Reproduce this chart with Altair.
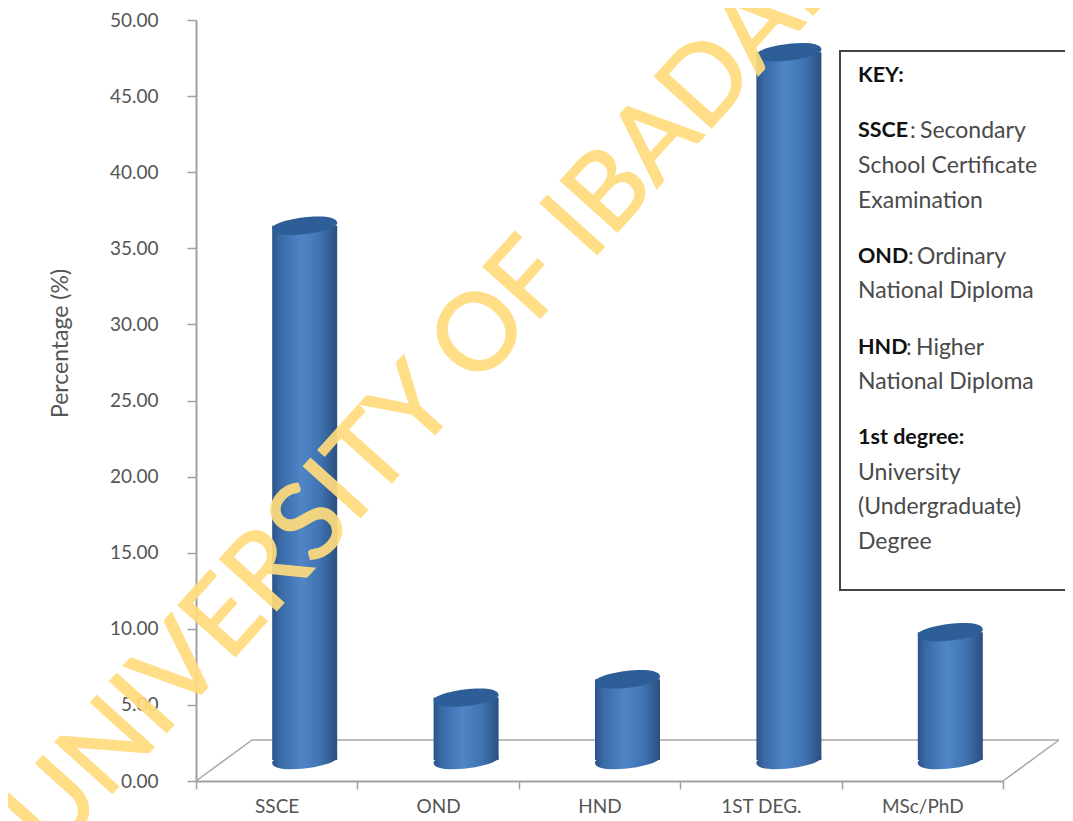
import altair as alt

categories = ["SSCE", "OND", "HND", "1ST DEG.", "MSc/PhD"]
percentages = [35.1, 4.1, 5.3, 46.5, 8.4]
y_ticks = [0, 5, 10, 15, 20, 25, 30, 35, 40, 45, 50]
y_title = "Percentage (%)"
watermark = "UNIVERSITY OF IBADAN"
key_title = "KEY:"
key_bold = ["SSCE", "OND", "HND", "1st degree:"]
key_rest = ["Secondary", "Ordinary", "Higher"]
key_plain = ["School Certificate", "Examination", "National Diploma", "National Diploma",
             "University", "(Undergraduate)", "Degree"]

W, H = 807, 761
FONT = "Lato"
ELLIPSE = "M-0.97,0.08 C-0.97,-0.2 0.97,-0.47 0.97,-0.08 C0.97,0.2 -0.97,0.47 -0.97,0.08 Z"
BASE_SHIFT = -21
BAR_SHIFT = 28

rows = [{"cat": c, "pct": p, "zero": 0} for c, p in zip(categories, percentages)]
bars_data = alt.Data(values=rows)
one = alt.Data(values=[{}])

y_scale = alt.Scale(domain=[0, 50], nice=False)
y_axis = alt.Axis(values=y_ticks, format=".2f", labelFont=FONT, labelFontSize=19,
                  labelColor="#555555", tickSize=9, tickColor="#a0a0a0", tickWidth=1.5,
                  domainColor="#a0a0a0", domainWidth=2, labelPadding=29, grid=False,
                  titleFont=FONT, titleFontSize=23, titleColor="#555555",
                  titleFontWeight="normal", titleX=-124, titleY=323)
x_enc = alt.X("cat:N", sort=categories, title=None,
              scale=alt.Scale(paddingInner=0, paddingOuter=0),
              axis=alt.Axis(labelAngle=0, labelFont=FONT, labelFontSize=19, labelColor="#555555",
                            tickBand="extent", tickSize=8, tickColor="#a0a0a0", tickWidth=1.5,
                            domainColor="#a0a0a0", domainWidth=2, labelPadding=8, grid=False))
y_pct = alt.Y("pct:Q", title=y_title, scale=y_scale, axis=y_axis)
y_zero = alt.Y("zero:Q", title=y_title, scale=y_scale, axis=y_axis)


def rule(x, x2, y, y2):
    return alt.Chart(one).mark_rule(color="#a6a6a6", strokeWidth=1.5).encode(
        x=alt.value(x), x2=alt.value(x2), y=alt.value(y), y2=alt.value(y2))


def txt(s, x, y, bold=False):
    return alt.Chart(one).mark_text(
        font=FONT, fontSize=21.5 if bold else 23, align="left", baseline="middle",
        fontWeight="bold" if bold else "normal",
        color="#111111" if bold else "#4a4a4a",
    ).encode(x=alt.value(x - 196), y=alt.value(y - 19), text=alt.value(s))


floor = [
    rule(0, 56, 761, 720),
    rule(56, 863, 720, 720),
    rule(863, 807, 720, 761),
]

gradient = alt.Gradient(
    gradient="linear", x1=0, x2=1, y1=0, y2=0,
    stops=[alt.GradientStop(offset=0, color="#2c5288"),
           alt.GradientStop(offset=0.12, color="#3a6aa6"),
           alt.GradientStop(offset=0.45, color="#4f86c8"),
           alt.GradientStop(offset=0.75, color="#3f72b0"),
           alt.GradientStop(offset=1, color="#2a4f7e")],
)

bottom = alt.Chart(bars_data).mark_point(
    shape=ELLIPSE, filled=True, size=4500, opacity=1, color=gradient,
    xOffset=BAR_SHIFT, yOffset=BASE_SHIFT,
).encode(x=x_enc, y=y_zero)

body = alt.Chart(bars_data).mark_bar(
    width=65, color=gradient, xOffset=BAR_SHIFT, yOffset=BASE_SHIFT, y2Offset=BASE_SHIFT,
).encode(x=x_enc, y=y_pct)

top = alt.Chart(bars_data).mark_point(
    shape=ELLIPSE, filled=True, size=4500, opacity=1, color="#2d5e98",
    xOffset=BAR_SHIFT, yOffset=BASE_SHIFT,
).encode(x=x_enc, y=y_pct)

box = alt.Chart(one).mark_rect(fill="white", stroke="#444444", strokeWidth=2).encode(
    x=alt.value(644), x2=alt.value(900), y=alt.value(31), y2=alt.value(570))

key = [
    txt(key_title, 858, 75, True),
    txt(key_bold[0], 858, 130, True), txt(":", 910, 130), txt(key_rest[0], 920, 130),
    txt(key_plain[0], 858, 165), txt(key_plain[1], 858, 200),
    txt(key_bold[1], 858, 256, True), txt(":", 908, 256), txt(key_rest[1], 917, 256),
    txt(key_plain[2], 858, 290),
    txt(key_bold[2], 858, 347, True), txt(":", 906, 347), txt(key_rest[2], 916, 347),
    txt(key_plain[3], 858, 381),
    txt(key_bold[3], 858, 437, True),
    txt(key_plain[4], 858, 472), txt(key_plain[5], 858, 506), txt(key_plain[6], 858, 541),
]

mark_wm = alt.Chart(one).mark_text(
    font=FONT, fontSize=107, align="left", baseline="alphabetic", angle=312,
    color="#FFDC7D", opacity=0.92, stroke="#FFDC7D", strokeWidth=1.5,
).encode(x=alt.value(53 - 196), y=alt.value(859 - 20), text=alt.value(watermark))

chart = alt.layer(
    *floor, bottom, body, top, box, *key, mark_wm
).properties(
    width=W, height=H, autosize="none",
    padding={"left": 188, "top": 12, "right": 62, "bottom": 40},
    background="white",
).configure_view(stroke=None)

chart.save("out.html", embed_options={"renderer": "svg", "actions": False})
